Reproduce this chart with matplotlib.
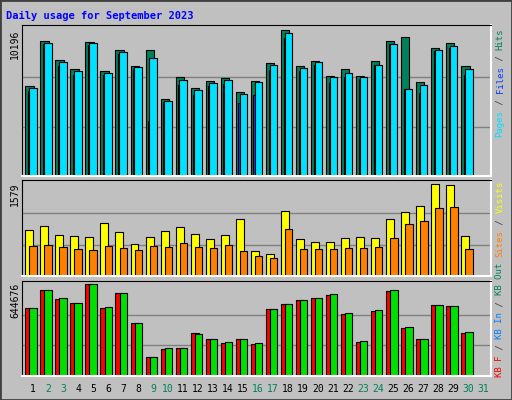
import matplotlib
matplotlib.use("Agg")
import matplotlib.pyplot as plt
from matplotlib.patches import Rectangle

days = list(range(1, 32))
weekend = [2, 3, 9, 10, 16, 17, 23, 24, 30, 31]

hits = [6186, 9245, 7954, 7342, 9177, 7206, 8633, 7568, 8633, 5302, 6798, 6050, 6526, 6730, 5778,
        6526, 7750, 9993, 7546, 7886, 6866, 7342, 6866, 7886, 9245, 9517, 6458, 8769, 9109, 7546]
files = [5869, 9087, 7568, 6957, 8996, 6957, 8339, 7365, 3762, 5053, 6277, 5597, 6209, 6345, 4985,
         5597, 7274, 9472, 7229, 7636, 6413, 6798, 6662, 7614, 9041, 5982, 5710, 8588, 8769, 6957]
pages = [6050, 9109, 7818, 7206, 9109, 7070, 8498, 7478, 8090, 5166, 6594, 5914, 6390, 6594, 5642,
         6458, 7614, 9789, 7410, 7818, 6798, 7070, 6798, 7614, 9041, 5982, 6254, 8633, 8905, 7342]
visits = [765, 831, 681, 665, 648, 881, 731, 532, 648, 748, 814, 698, 615, 681, 947,
          416, 366, 1080, 615, 565, 565, 632, 648, 632, 947, 1064, 1163, 1529, 1512, 665]
sites = [499, 515, 482, 449, 432, 499, 465, 432, 499, 482, 548, 482, 465, 515, 416,
         332, 299, 781, 449, 449, 449, 465, 465, 482, 632, 864, 914, 1130, 1147, 449]
kb_f = [473500, 600100, 536800, 508600, 642300, 473500, 579000, 368000, 128900, 185200,
        192200, 297700, 255500, 227400, 255500, 220300, 466500, 501600, 529700, 543800,
        564900, 431300, 234400, 452400, 593000, 332800, 255500, 494600, 487600, 297700]
kb_out = [473500, 600100, 543800, 508600, 642300, 480500, 579000, 368000, 128900, 192200,
          192200, 290700, 255500, 234400, 255500, 227400, 466500, 501600, 529700, 543800,
          571900, 438300, 241400, 459400, 600100, 339900, 255500, 494600, 487600, 304700]

max_hits, max_visits, max_kb = 10196, 1579, 644676

BG = "#c0c0c0"
C_HITS, C_FILES, C_PAGES = "#00805c", "#0040ff", "#00e0ff"
C_VISITS, C_SITES = "#ffff00", "#ff8000"
C_KBF, C_KBIN, C_KBOUT = "#ff0000", "#0080ff", "#00e000"
MONO = "DejaVu Sans Mono"

fig = plt.figure(figsize=(5.12, 4.0), dpi=100)
fig.patch.set_facecolor(BG)
fig.patches.append(Rectangle((0, 0), 1, 1, transform=fig.transFigure, fill=False,
                             edgecolor="#404040", linewidth=2))

W, H = 512.0, 400.0


def px_axes(x0, y_top, x1, y_bot):
    return fig.add_axes([x0 / W, (H - y_bot) / H, (x1 - x0) / W, (y_bot - y_top) / H])


def style(ax, ymax, full):
    ax.set_facecolor(BG)
    ax.set_xlim(-0.2, 31.0)
    ax.set_ylim(0, ymax)
    ax.set_xticks([])
    ax.set_yticks([])
    for y in (full / 3, full * 2 / 3):
        ax.axhline(y, color="#808080", linewidth=1, zorder=0)
    for s in ("top", "left"):
        ax.spines[s].set_color("black")
    for s in ("bottom", "right"):
        ax.spines[s].set_color("white")
        ax.spines[s].set_linewidth(1.5)


x = [d - 1 for d in days[:30]]
kw = dict(align="edge", edgecolor="black", linewidth=0.8)

ax1 = px_axes(22, 25, 491, 176.3)
style(ax1, max_hits * 151.3 / 149, max_hits)
ax1.bar([i + 0.02 for i in x], hits, width=0.55, color=C_HITS, **kw)
ax1.bar([i + 0.2 for i in x], files, width=0.5, color=C_FILES, **kw)
ax1.bar([i + 0.27 for i in x], pages, width=0.5, color=C_PAGES, **kw)

ax2 = px_axes(22, 180, 491, 276.3)
style(ax2, max_visits * 96.3 / 95, max_visits)
ax2.bar([i + 0.02 for i in x], visits, width=0.53, color=C_VISITS, **kw)
ax2.bar([i + 0.29 for i in x], sites, width=0.49, color=C_SITES, **kw)

ax3 = px_axes(22, 281, 491, 375.7)
style(ax3, max_kb * 94.7 / 91.7, max_kb)
ax3.bar([i + 0.02 for i in x], kb_f, width=0.53, color=C_KBF, **kw)
ax3.bar([i + 0.29 for i in x], kb_out, width=0.49, color=C_KBOUT, **kw)

fig.text(6 / W, 1 - 16 / H, "Daily usage for September 2023", color="#0000ff",
         fontfamily=MONO, fontweight="bold", fontsize=7.5, va="center")

for d in days:
    fig.text((25 + (d - 1) * 15 + 8) / W, 1 - 389 / H, str(d), fontfamily=MONO, fontsize=7,
             color=C_HITS if d in weekend else "black", ha="center", va="center")

for label, y_top in (("10196", 30), ("1579", 182), ("644676", 283)):
    fig.text(15 / W, 1 - y_top / H, label, rotation=90, fontfamily=MONO, fontsize=7,
             ha="center", va="top")

CW = 5.45


def side_label(parts, y_start):
    pos = 0
    for text, color in parts:
        fig.text(500 / W, 1 - (y_start - pos * CW) / H, text, rotation=90, fontfamily=MONO,
                 fontsize=6.5, color=color, ha="center", va="bottom")
        pos += len(text)


sep = "#404040"
side_label([("Pages", C_PAGES), (" / ", sep), ("Files", C_FILES), (" / ", sep), ("Hits", C_HITS)], 137)
side_label([("Sites", C_SITES), (" / ", sep), ("Visits", C_VISITS)], 257)
side_label([("KB F", C_KBF), (" / ", sep), ("KB In", C_KBIN), (" / ", sep), ("KB Out", C_HITS)], 377)

fig.savefig("out.png", dpi=100, facecolor=BG)
